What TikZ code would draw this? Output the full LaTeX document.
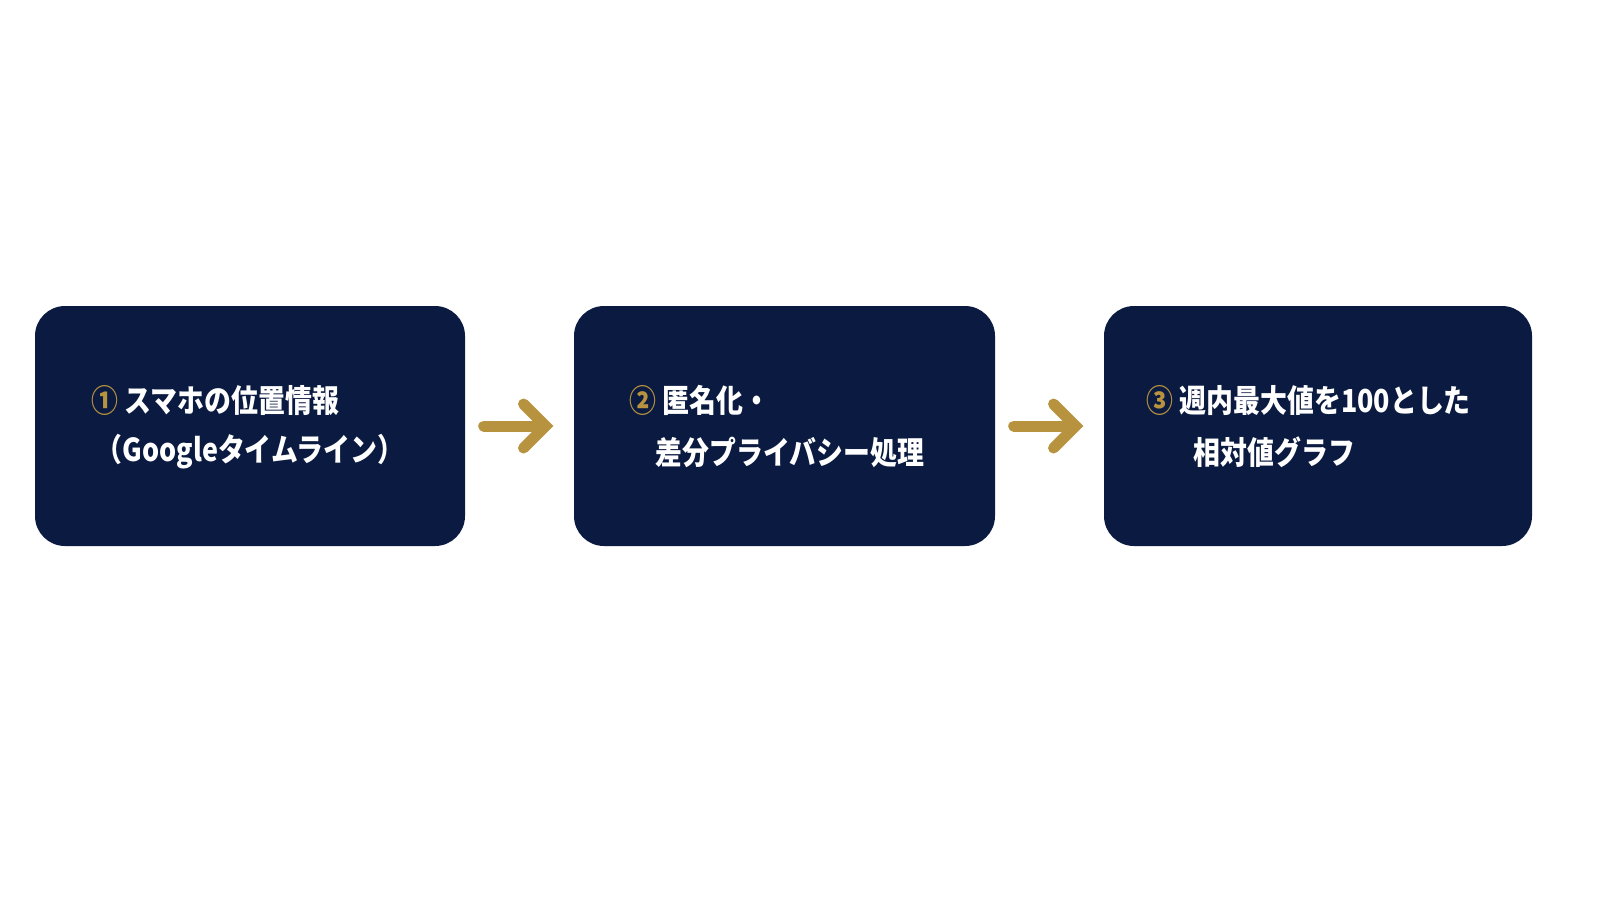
\documentclass[tikz,border=0pt]{standalone}
\usepackage{fontspec}
\setmainfont{Noto Sans CJK JP}[FakeStretch=0.85]
\usetikzlibrary{arrows.meta}
\definecolor{navy}{HTML}{0B1A40}
\definecolor{gold}{HTML}{B8933F}
\tikzset{
  stage/.style={fill=navy, rounded corners=0.3cm, minimum width=4.3cm, minimum height=2.4cm},
  txt/.style={anchor=west, text=white, font=\fontsize{9}{12}\selectfont\bfseries, inner sep=0},
  flow/.style={draw=gold, line width=0.11cm, line cap=round, -{Straight Barb[length=0.22cm, width=0.44cm, line cap=round]}, shorten <=0.18cm, shorten >=0.2cm}
}
\begin{document}
\begin{tikzpicture}
\useasboundingbox (0,0) rectangle (16,-9);

\node[stage] (s1) at (2.5,-4.26) {};
\node[stage, minimum width=4.21cm] (s2) at (7.845,-4.26) {};
\node[stage, minimum width=4.28cm] (s3) at (13.18,-4.26) {};

%-------------------------------------
\node[txt] (s1a) at (0.91,-4.0) {{\color{gold}①} スマホの位置情報};
\node[txt] (s1b) at (0.95,-4.52) {（Googleタイムライン）};

\node[txt] (s2a) at (6.29,-4.0) {{\color{gold}②} 匿名化・};
\node[txt] (s2b) at (6.55,-4.52) {差分プライバシー処理};

\node[txt] (s3a) at (11.46,-4.0) {{\color{gold}③} 週内最大値を100とした};
\node[txt] (s3b) at (11.93,-4.52) {相対値グラフ};

\draw[flow] (s1.east) -- (s2.west);
\draw[flow] (s2.east) -- (s3.west);
\end{tikzpicture}
\end{document}
